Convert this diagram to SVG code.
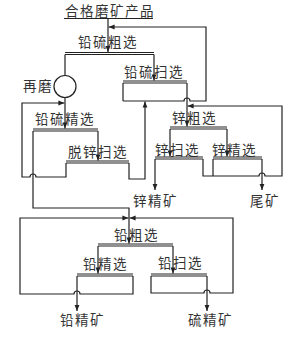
<svg xmlns="http://www.w3.org/2000/svg" width="291" height="337" viewBox="0 0 291 337">
<style>
.t{font-family:"Noto Sans CJK SC","Noto Sans",sans-serif;font-size:13.5px;letter-spacing:1.5px;fill:#333}
.l{fill:none;stroke:#222;stroke-width:1.2}
.a{fill:none;stroke:#222;stroke-width:1.2;marker-end:url(#ah)}
</style>
<defs>
<marker id="ah" viewBox="0 0 10 10" refX="10" refY="5" markerWidth="7" markerHeight="6" orient="auto" markerUnits="userSpaceOnUse"><path d="M0,1 L10,5 L0,9 z" fill="#222"/></marker>
</defs>
<rect width="291" height="337" fill="#fff"/>
<g id="feed">
<text class="t" x="65" y="15.5">合格磨矿产品</text>
<path class="l" d="M64,18.5 H153"/>
</g>
<g id="pbs-rougher">
<text class="t" x="78" y="47">铅硫粗选</text>
<path class="l" d="M65,52.5 H154 M65,54.5 H154"/>
</g>
<g id="regrind">
<text class="t" x="23" y="90.5">再磨</text>
<circle cx="65" cy="86.5" r="11" class="l"/>
</g>
<g id="pbs-scavenger">
<text class="t" x="124" y="77">铅硫扫选</text>
<path class="l" d="M123,81 H187 M123,83 H187 M123,83 V101"/>
</g>
<g id="pbs-cleaner">
<text class="t" x="35" y="124">铅硫精选</text>
<path class="l" d="M33,129 H98 M33,131 H98"/>
</g>
<g id="dezinc-scavenger">
<text class="t" x="68" y="157">脱锌扫选</text>
<path class="l" d="M66,161 H129 M66,163 H129"/>
</g>
<g id="zn-rougher">
<text class="t" x="172" y="123">锌粗选</text>
<path class="l" d="M170,127 H227 M170,129 H227"/>
</g>
<g id="zn-scavenger">
<text class="t" x="155" y="155">锌扫选</text>
<path class="l" d="M155,157 H203 M155,159 H203"/>
</g>
<g id="zn-cleaner">
<text class="t" x="212" y="155">锌精选</text>
<path class="l" d="M213,157 H262 M213,159 H262"/>
</g>
<g id="zn-conc"><text class="t" x="133" y="205.5">锌精矿</text></g>
<g id="tailings"><text class="t" x="250" y="205.5">尾矿</text></g>
<g id="pb-rougher">
<text class="t" x="114" y="240">铅粗选</text>
<path class="l" d="M98,244 H173 M98,246 H173"/>
</g>
<g id="pb-cleaner">
<text class="t" x="83" y="269">铅精选</text>
<path class="l" d="M77,274 H133 M77,276 H133"/>
</g>
<g id="pb-scavenger">
<text class="t" x="158" y="267.5">铅扫选</text>
<path class="l" d="M151,274 H207 M151,276 H207"/>
</g>
<g id="pb-conc"><text class="t" x="60" y="325">铅精矿</text></g>
<g id="s-conc"><text class="t" x="188" y="325">硫精矿</text></g>
<g id="connectors">
<path class="a" d="M108,18.5 V52"/>
<path class="l" d="M65,54.5 V75.5"/>
<path class="a" d="M65,97.5 V128.5"/>
<path class="a" d="M154,54.5 V80.5"/>
<path class="a" d="M123,101 H184 A3,3 0 0 1 190,101 H206 V27 H108.6"/>
<path class="a" d="M187,83 V126.5"/>
<path class="a" d="M129,163 V179 H145 V101.6"/>
<path class="a" d="M98,131 V160.5"/>
<path class="a" d="M66,163 V177 H36 A3,3 0 0 0 30,177 H22 V103 H64.4"/>
<path class="a" d="M33,131 V208 H129 V243.5"/>
<path class="a" d="M170,129 V156.5"/>
<path class="a" d="M227,129 V156.5"/>
<path class="a" d="M155,159 V190"/>
<path class="a" d="M203,159 V176 H259 A3,3 0 0 1 265,176 H282 V106 H187.6"/>
<path class="l" d="M213,159 V176"/>
<path class="a" d="M262,159 V190"/>
<path class="a" d="M133,276 V294 H80 A3,3 0 0 0 74,294 H20 V218 H128.4"/>
<path class="a" d="M98,246 V273.5"/>
<path class="a" d="M173,246 V273.5"/>
<path class="a" d="M77,276 V311"/>
<path class="a" d="M151,276 V293 H204 A3,3 0 0 1 210,293 H233 V218 H129.6"/>
<path class="a" d="M207,276 V311"/>
</g>
</svg>
